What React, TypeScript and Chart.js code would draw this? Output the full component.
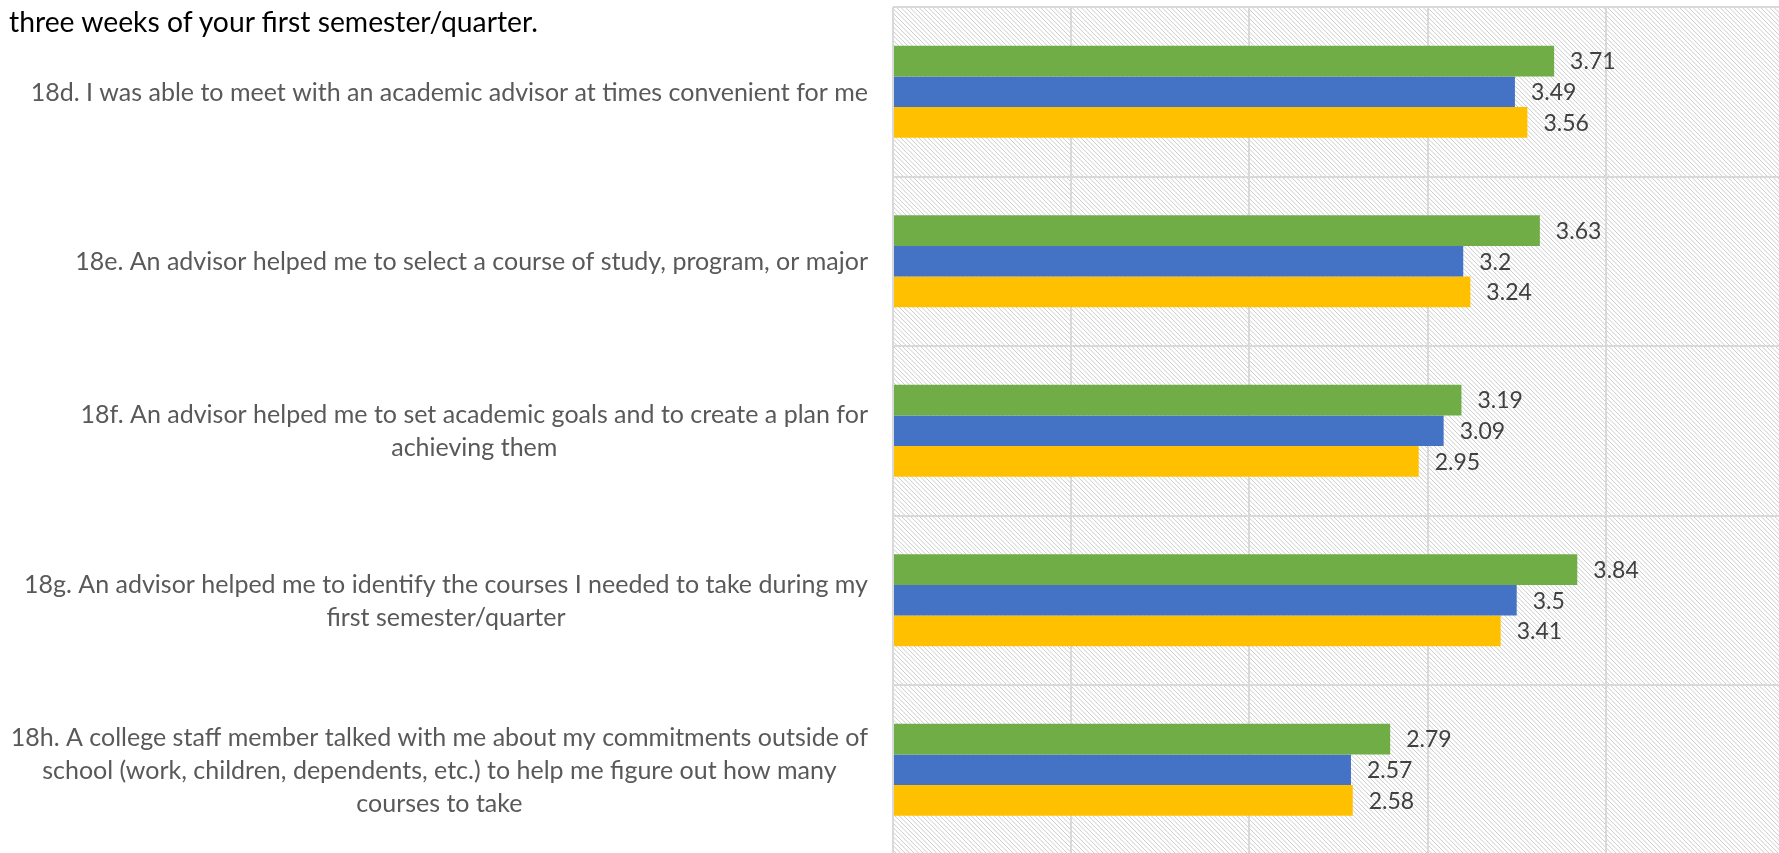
import React, { useEffect, useRef } from "react";
import { Chart, registerables } from "chart.js";

Chart.register(...registerables);

// ---- data ----
const titleText = "three weeks of your first semester/quarter.";

const categories: string[][] = [
  ["18d. I was able to meet with an academic advisor at times convenient for me"],
  ["18e. An advisor helped me to select a course of study, program, or major"],
  ["18f. An advisor helped me to set academic goals and to create a plan for", "achieving them"],
  ["18g. An advisor helped me to identify the courses I needed to take during my", "first semester/quarter"],
  [
    "18h. A college staff member talked with me about my commitments outside of",
    "school (work, children, dependents, etc.) to help me figure out how many",
    "courses to take",
  ],
];

const seriesNames = ["Series 1", "Series 2", "Series 3"];
const greenValues = [3.71, 3.63, 3.19, 3.84, 2.79];
const blueValues = [3.49, 3.2, 3.09, 3.5, 2.57];
const yellowValues = [3.56, 3.24, 2.95, 3.41, 2.58];
const xAxisMin = 0;
const xAxisMax = 5;
const xAxisStep = 1;

// ---- styles ----
const FONT = "Lato, 'Open Sans', sans-serif";
const LABEL_SIZE = 25;
const LABEL_LINE_HEIGHT = 33;
const LABEL_GAP = 25;
const VALUE_SIZE = 23;
const GRID_COLOR = "#D9D9D9";

const hatchPlugin = {
  id: "hatchBackground",
  beforeDraw(chart: any) {
    const { ctx, chartArea } = chart;
    const { left, top, right, bottom } = chartArea;
    ctx.save();
    ctx.beginPath();
    ctx.rect(left, top, right - left, bottom - top);
    ctx.clip();
    ctx.fillStyle = "#ffffff";
    ctx.fillRect(left, top, right - left, bottom - top);
    ctx.strokeStyle = "#cdcdcd";
    ctx.lineWidth = 1;
    const h = bottom - top;
    const step = 4.5;
    ctx.beginPath();
    for (let x = left - h; x < right; x += step) {
      ctx.moveTo(x, top);
      ctx.lineTo(x + h, bottom);
    }
    ctx.stroke();
    ctx.restore();
  },
};

const categoryLabelPlugin = {
  id: "categoryLabels",
  afterDraw(chart: any) {
    const { ctx, chartArea } = chart;
    const yScale = chart.scales.y;
    const labels = chart.data.labels as string[][];
    ctx.save();
    ctx.font = `${LABEL_SIZE}px ${FONT}`;
    ctx.fillStyle = "#595959";
    ctx.textAlign = "center";
    ctx.textBaseline = "middle";
    labels.forEach((lines, i) => {
      const cy = yScale.getPixelForValue(i);
      const maxW = Math.max(...lines.map((l) => ctx.measureText(l).width));
      const right = chartArea.left - LABEL_GAP;
      const cx = right - maxW / 2;
      const total = (lines.length - 1) * LABEL_LINE_HEIGHT;
      lines.forEach((l, j) => {
        ctx.fillText(l, cx, cy + 1 - total / 2 + j * LABEL_LINE_HEIGHT);
      });
    });
    ctx.restore();
  },
};

const valueLabelPlugin = {
  id: "valueLabels",
  afterDatasetsDraw(chart: any) {
    const { ctx } = chart;
    ctx.save();
    ctx.font = `${VALUE_SIZE}px ${FONT}`;
    ctx.fillStyle = "#404040";
    ctx.textAlign = "left";
    ctx.textBaseline = "middle";
    chart.data.datasets.forEach((ds: any, di: number) => {
      const meta = chart.getDatasetMeta(di);
      meta.data.forEach((bar: any, i: number) => {
        ctx.fillText(String(ds.data[i]), bar.x + 16, bar.y + 1);
      });
    });
    ctx.restore();
  },
};

export default function App() {
  const canvasRef = useRef<HTMLCanvasElement | null>(null);

  useEffect(() => {
    if (!canvasRef.current) return;
    const chart = new Chart(canvasRef.current, {
      type: "bar",
      data: {
        labels: categories as any,
        datasets: [
          { label: seriesNames[0], data: greenValues, backgroundColor: "#70AD47" },
          { label: seriesNames[1], data: blueValues, backgroundColor: "#4472C4" },
          { label: seriesNames[2], data: yellowValues, backgroundColor: "#FFC000" },
        ],
      },
      options: {
        indexAxis: "y",
        responsive: false,
        animation: false,
        maintainAspectRatio: false,
        layout: { padding: { left: 893, top: 7, right: 6, bottom: 15.5 } },
        datasets: { bar: { categoryPercentage: 0.543, barPercentage: 1 } },
        plugins: {
          legend: { display: false },
          tooltip: { enabled: false },
          title: { display: false },
        },
        scales: {
          x: {
            min: xAxisMin,
            max: xAxisMax,
            ticks: { display: false, stepSize: xAxisStep },
            grid: { color: GRID_COLOR, lineWidth: 2, drawTicks: false },
            border: { display: false },
          },
          y: {
            ticks: { display: false },
            grid: { color: GRID_COLOR, lineWidth: 2, drawTicks: false, offset: true },
            border: { display: false },
          },
        },
      } as any,
      plugins: [hatchPlugin, valueLabelPlugin, categoryLabelPlugin],
    });
    return () => chart.destroy();
  }, []);

  return (
    <div
      style={{
        position: "fixed",
        left: 0,
        top: 0,
        width: 1779,
        height: 853,
        overflow: "hidden",
        background: "#ffffff",
      }}
    >
      <canvas
        ref={canvasRef}
        width={1790}
        height={870}
        style={{ position: "absolute", left: 0, top: 0, width: 1790, height: 870 }}
      />
      <div
        style={{
          position: "absolute",
          left: 9,
          top: 3,
          fontFamily: FONT,
          fontSize: 28.3,
          lineHeight: "36px",
          color: "#000000",
          whiteSpace: "nowrap",
        }}
      >
        {titleText}
      </div>
    </div>
  );
}
